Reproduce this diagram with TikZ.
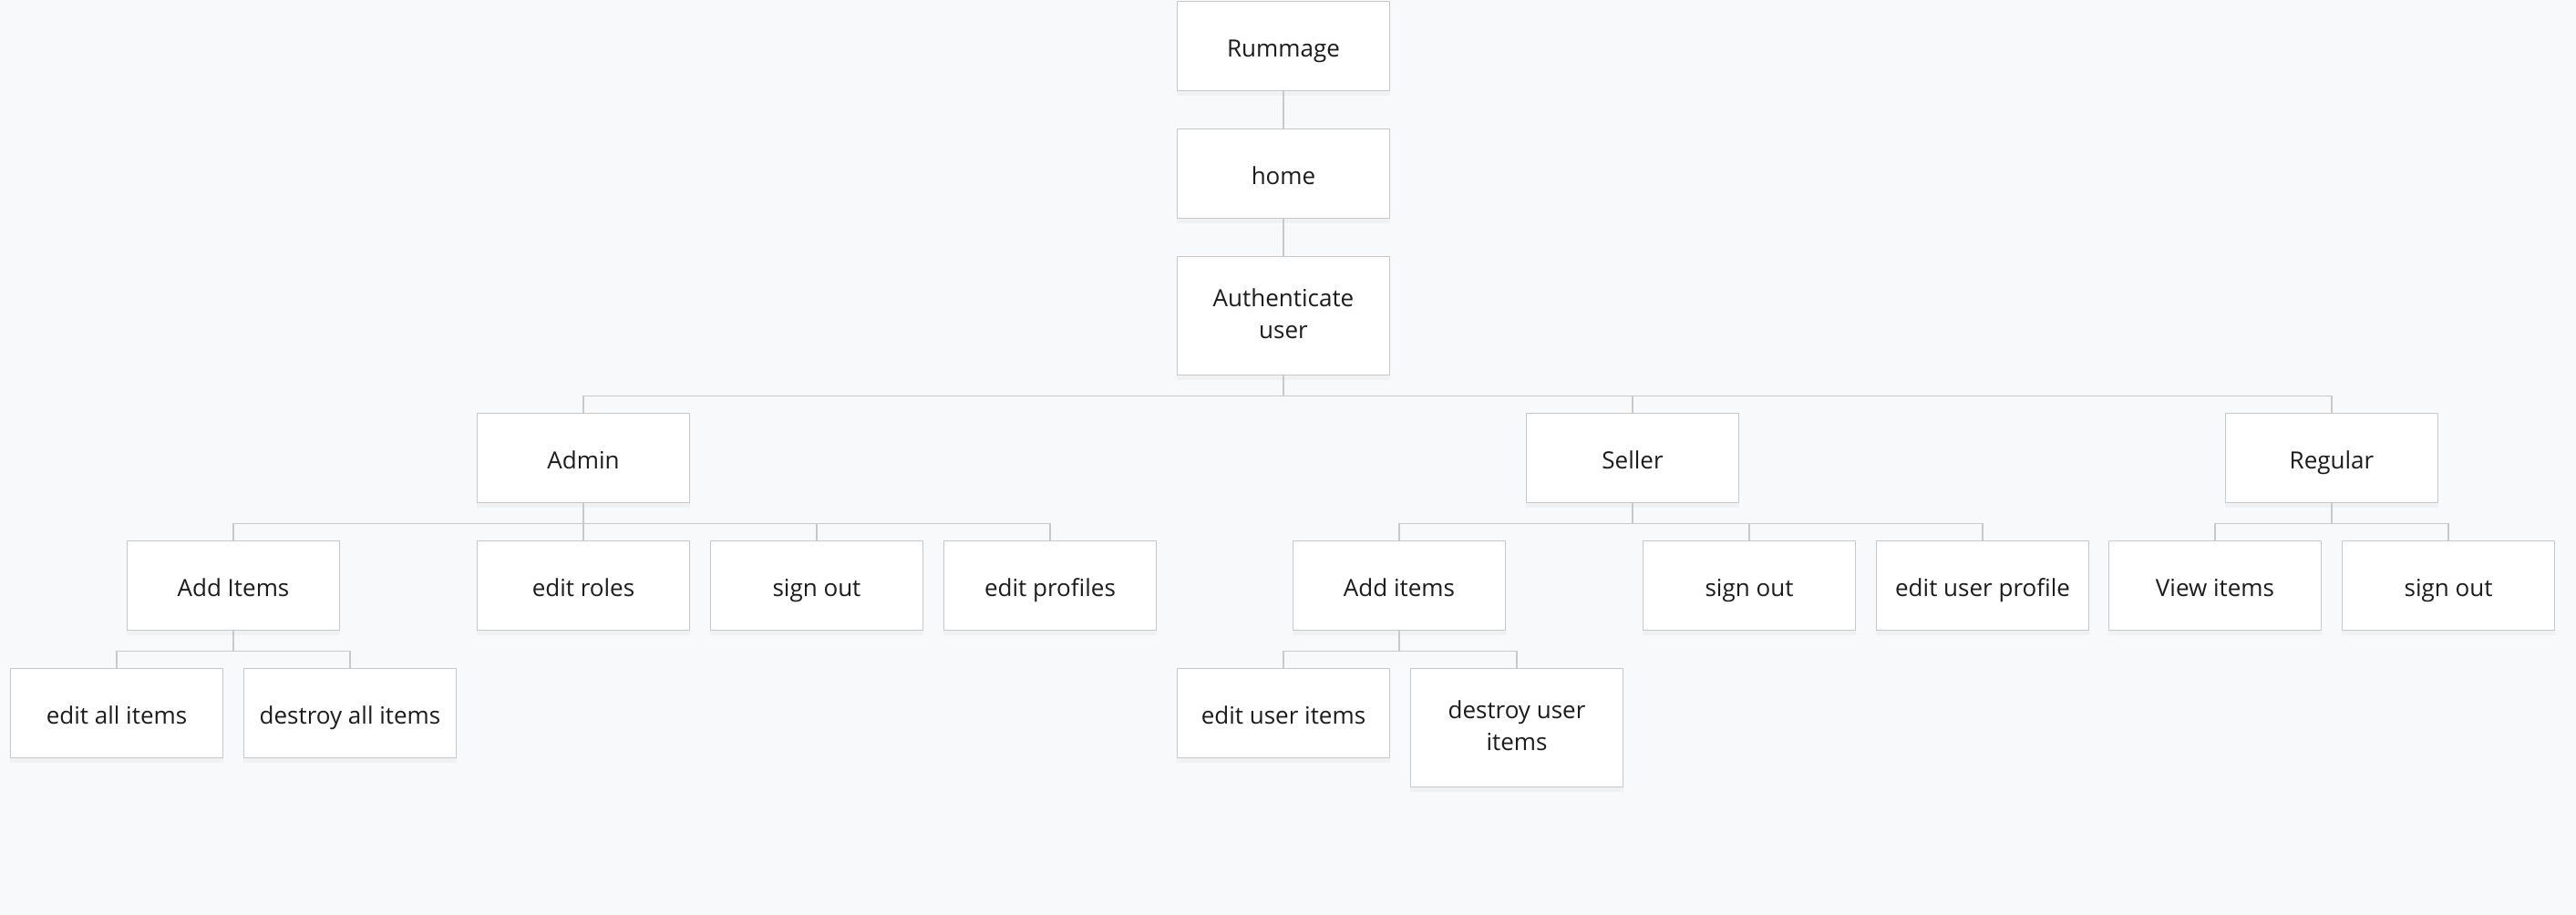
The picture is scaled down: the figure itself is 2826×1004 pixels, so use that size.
\documentclass[tikz,border=0pt]{standalone}
\usepackage{fontspec}
\setmainfont{Open Sans}
\usepackage{xcolor}
\usepackage{tikz}
\usetikzlibrary{positioning, shadows}
\definecolor{pagebg}{HTML}{F8F9FB}
\definecolor{boxline}{HTML}{C9C9C9}
\definecolor{boxtext}{HTML}{1C1C1C}
\newcommand{\boxstrut}{\rule[-1.7pt]{0pt}{10pt}}
\tikzstyle{box}  = [draw=boxline, fill=white, line width=0.4pt, anchor=north,
                    minimum width=2.33cm, minimum height=0.98cm, inner sep=2pt,
                    text=boxtext, font=\fontsize{7.4}{10}\selectfont,
                    execute at begin node=\boxstrut, execute at end node=\boxstrut,
                    drop shadow={shadow xshift=0pt, shadow yshift=-1.5pt, opacity=0.06}]
\tikzstyle{tall} = [minimum height=1.30cm]
\tikzstyle{link} = [draw=boxline, line width=0.4pt]
\tikzset{every node/.style={align=center}}

\begin{document}
\begin{tikzpicture}[x=0.01cm, y=-0.01cm]
  % Page
  \fill[pagebg] (0,0) rectangle (2826,1004);
  \useasboundingbox (0,0) rectangle (2826,1004);
  % Top chain
  \node[box] (root) at (1408,1) {Rummage};
  \node[box] (home) at (1408,141) {home};
  \node[box,tall] (auth) at (1408,281) {Authenticate\\user};
  % Roles
  \node[box] (admin)   at (640,453)  {Admin};
  \node[box] (seller)  at (1791,453) {Seller};
  \node[box] (regular) at (2558,453) {Regular};
  % Admin actions
  \node[box] (addA)  at (256,593)  {Add Items};
  \node[box] (roles) at (640,593)  {edit roles};
  \node[box] (outA)  at (896,593)  {sign out};
  \node[box] (profA) at (1152,593) {edit profiles};
  \node[box] (editAll) at (128,733) {edit all items};
  \node[box] (destAll) at (384,733) {destroy all items};
  % Seller actions
  \node[box] (addS)  at (1535,593) {Add items};
  \node[box] (outS)  at (1919,593) {sign out};
  \node[box] (profS) at (2175,593) {edit user profile};
  \node[box] (editU) at (1408,733) {edit user items};
  \node[box,tall] (destU) at (1664,733) {destroy user\\items};
  % Regular actions
  \node[box] (view) at (2430,593) {View items};
  \node[box] (outR) at (2686,593) {sign out};
  % Connectors
  \draw[link] (root) -- (home);
  \draw[link] (home) -- (auth);
  \foreach \p/\c in {auth/admin, auth/seller, auth/regular,
                     admin/addA, admin/roles, admin/outA, admin/profA,
                     addA/editAll, addA/destAll,
                     seller/addS, seller/outS, seller/profS,
                     addS/editU, addS/destU,
                     regular/view, regular/outR}
      \draw[link] (\p.south) -- ++(0,22) -| (\c.north);
\end{tikzpicture}
\end{document}
